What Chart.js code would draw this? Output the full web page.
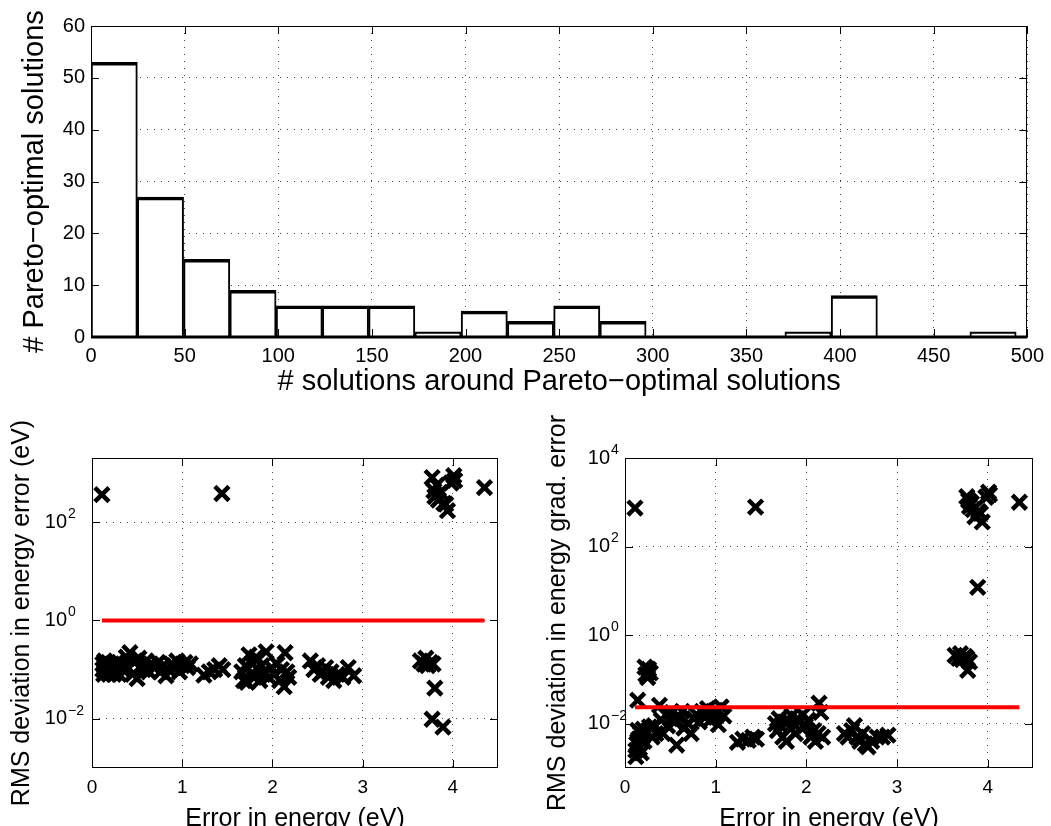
<!DOCTYPE html>
<html>
<head>
<meta charset="utf-8">
<script src="https://cdn.jsdelivr.net/npm/chart.js@4.4.0/dist/chart.umd.min.js"></script>
<style>
  html, body { margin: 0; padding: 0; background: #fff; overflow: hidden; }
  #page { position: relative; width: 1051px; height: 826px; overflow: hidden; }
  canvas { position: absolute; }
</style>
</head>
<body>
<div id="page">
  <canvas id="histChart" width="1051" height="410" style="left:0;top:0;width:1051px;height:410px"></canvas>
  <canvas id="energyChart" width="520" height="440" style="left:0;top:400px;width:520px;height:440px"></canvas>
  <canvas id="gradChart" width="531" height="440" style="left:520px;top:400px;width:531px;height:440px"></canvas>
</div>
<script>
// histogram: # solutions around each Pareto-optimal solution (20 bins)
const binCenters = [12.4, 37.1, 61.8, 86.5, 111.2, 135.9, 160.6, 185.3, 210.0, 234.7,
                    259.4, 284.1, 308.8, 333.5, 358.2, 382.9, 407.6, 432.3, 457.0, 481.7];
const binCounts = [53, 27, 15, 9, 6, 6, 6, 1, 5, 3, 6, 3, 0, 0, 0, 1, 8, 0, 0, 1];
const histXTicks = [0, 50, 100, 150, 200, 250, 300, 350, 400, 450, 500];
const histYTicks = [0, 10, 20, 30, 40, 50, 60];

// scatter: error in energy (eV) vs RMS deviations
const energyErr = [
  0.11, 1.44, 4.35,
  3.77, 3.79, 3.80, 3.82, 3.84, 3.86, 3.90, 3.94, 3.98, 4.01, 4.02, 3.92,
  3.64, 3.68, 3.70, 3.72, 3.75, 3.78, 3.80, 3.77, 3.89,
  0.12, 0.12, 0.13, 0.14, 0.15, 0.16, 0.17, 0.18, 0.19, 0.20, 0.21, 0.22,
  0.23, 0.24, 0.25, 0.26, 0.27, 0.28, 0.30, 0.32, 0.34, 0.14,
  0.38, 0.40, 0.42, 0.45, 0.47, 0.50, 0.52, 0.55, 0.57, 0.60, 0.63, 0.65,
  0.70, 0.73, 0.76, 0.79, 0.82, 0.85, 0.88, 0.91, 0.94, 0.97, 1.00, 1.03, 1.06, 1.09,
  1.24, 1.30, 1.36, 1.41, 1.45,
  1.66, 1.68, 1.70, 1.72, 1.74, 1.76, 1.78, 1.80, 1.82, 1.84, 1.86, 1.88,
  1.90, 1.93, 1.96, 1.99, 2.02, 2.05, 2.08, 2.10, 2.13, 2.14, 2.16, 2.18,
  2.42, 2.46, 2.50, 2.53, 2.56, 2.59, 2.62, 2.65, 2.68, 2.72, 2.78, 2.84, 2.90
];
const rmsEnergy = [
  360, 380, 500,
  800, 430, 330, 560, 280, 400, 240, 170, 620, 870, 700, 230,
  0.15, 0.13, 0.17, 0.12, 0.14, 0.13, 0.042, 0.0098, 0.0068,
  0.10, 0.13, 0.08, 0.11, 0.09, 0.12, 0.10, 0.14, 0.08, 0.11, 0.09, 0.13,
  0.10, 0.08, 0.12, 0.09, 0.14, 0.11, 0.08, 0.12, 0.10, 0.15,
  0.18, 0.11, 0.22, 0.08, 0.14, 0.066, 0.17, 0.12, 0.10, 0.15, 0.09, 0.13,
  0.11, 0.14, 0.09, 0.12, 0.075, 0.10, 0.13, 0.11, 0.15, 0.09, 0.12, 0.14, 0.11, 0.13,
  0.077, 0.09, 0.10, 0.12, 0.10,
  0.09, 0.06, 0.12, 0.055, 0.20, 0.08, 0.13, 0.07, 0.18, 0.10, 0.06, 0.12,
  0.09, 0.23, 0.07, 0.11, 0.08, 0.13, 0.06, 0.10, 0.045, 0.22, 0.09, 0.07,
  0.15, 0.10, 0.12, 0.08, 0.09, 0.11, 0.07, 0.09, 0.06, 0.08, 0.07, 0.11, 0.075
];
const rmsGrad = [
  740, 780, 1000,
  1340, 1100, 800, 950, 680, 470, 620, 360, 1300, 1700, 1500, 560,
  0.35, 0.30, 0.38, 0.28, 0.33, 0.16, 0.25, 0.30, 12,
  0.0025, 0.0018, 0.0035, 0.0071, 0.0045, 0.0028, 0.006, 0.0022, 0.005, 0.0075, 0.004, 0.19,
  0.13, 0.0065, 0.11, 0.17, 0.0085, 0.14, 0.005, 0.009, 0.006, 0.034,
  0.026, 0.012, 0.006, 0.016, 0.009, 0.013, 0.018, 0.011, 0.0033, 0.014, 0.019, 0.008,
  0.010, 0.006, 0.013, 0.016, 0.011, 0.019, 0.014, 0.022, 0.012, 0.017, 0.020, 0.0095, 0.024, 0.015,
  0.0038, 0.0045, 0.0042, 0.005, 0.0045,
  0.010, 0.007, 0.013, 0.009, 0.005, 0.011, 0.004, 0.012, 0.008, 0.015, 0.010, 0.006,
  0.013, 0.011, 0.016, 0.009, 0.012, 0.005, 0.007, 0.004, 0.006, 0.029, 0.018, 0.005,
  0.006, 0.005, 0.007, 0.009, 0.005, 0.004, 0.006, 0.0035, 0.003, 0.004, 0.005, 0.005, 0.0055
];
const energyLimit = 1;       // red line, left panel
const gradLimit = 0.0235;    // red line, right panel
const scatterXTicks = [0, 1, 2, 3, 4];
const energyYTicks = [1e-2, 1, 1e2];
const gradYTicks = [1e-2, 1, 1e2, 1e4];

const FONT = "'Liberation Sans', Arial, Helvetica, sans-serif";
Chart.defaults.font.family = FONT;
Chart.defaults.color = '#000';
Chart.defaults.animation = false;
Chart.defaults.events = [];
Chart.defaults.plugins.legend.display = false;
Chart.defaults.plugins.tooltip.enabled = false;

// matlab-like box with inward ticks
const matlabBox = {
  id: 'matlabBox',
  afterDatasetsDraw(chart, args, opts) {
    const { ctx, chartArea: a, scales } = chart;
    const len = 8;
    ctx.save();
    ctx.strokeStyle = '#000';
    ctx.lineWidth = 1;
    ctx.beginPath();
    scales.x.ticks.forEach(t => {
      const p = Math.round(scales.x.getPixelForValue(t.value)) + 0.5;
      ctx.moveTo(p, a.bottom); ctx.lineTo(p, a.bottom - len);
      ctx.moveTo(p, a.top); ctx.lineTo(p, a.top + len);
    });
    scales.y.ticks.forEach(t => {
      const p = Math.round(scales.y.getPixelForValue(t.value)) + 0.5;
      ctx.moveTo(a.left, p); ctx.lineTo(a.left + len, p);
      ctx.moveTo(a.right, p); ctx.lineTo(a.right - len, p);
    });
    ctx.stroke();
    ctx.strokeRect(Math.round(a.left) + 0.5, Math.round(a.top) + 0.5,
                   Math.round(a.right - a.left) - 1, Math.round(a.bottom - a.top) - 1);
    if (opts.baseWidth) {
      ctx.lineWidth = opts.baseWidth;
      ctx.beginPath();
      ctx.moveTo(a.left, a.bottom); ctx.lineTo(a.right, a.bottom);
      ctx.stroke();
    }
    ctx.restore();
  }
};

// exponents for the "10" tick labels of the log axes
const expLabels = {
  id: 'expLabels',
  afterDraw(chart, args, opts) {
    if (!opts.gap) return;
    const { ctx, chartArea: a, scales } = chart;
    ctx.save();
    ctx.fillStyle = '#000';
    ctx.font = '14px ' + FONT;
    ctx.textAlign = 'left';
    ctx.textBaseline = 'middle';
    scales.y.ticks.forEach(t => {
      const e = Math.round(Math.log10(t.value));
      const y = scales.y.getPixelForValue(t.value) - 8;
      ctx.fillText(e < 0 ? '\u2212' + (-e) : String(e), a.left - opts.gap + 1, y);
    });
    ctx.restore();
  }
};

const dotted = { display: false, dash: [1, 6] };
const gridStyle = { color: '#444', lineWidth: 1, drawTicks: false };

// top histogram
new Chart(document.getElementById('histChart'), {
  type: 'bar',
  data: {
    datasets: [{
      data: binCenters.map((c, i) => ({ x: c, y: binCounts[i] })),
      backgroundColor: '#fff',
      borderColor: '#000',
      borderWidth: { top: 3.5, left: 2, right: 2, bottom: 0 },
      borderSkipped: false,
      barPercentage: 1,
      categoryPercentage: 1
    }]
  },
  options: {
    responsive: false,
    layout: { padding: { left: 0, top: 26, right: 19, bottom: 0 } },
    plugins: { matlabBox: { baseWidth: 3 } },
    scales: {
      x: {
        type: 'linear', min: 0, max: 500, offset: false,
        grid: { ...gridStyle, offset: false }, border: dotted,
        afterBuildTicks: s => { s.ticks = histXTicks.map(v => ({ value: v })); },
        afterFit: s => { s.height = 73; },
        ticks: { font: { size: 20 }, padding: 7, maxRotation: 0, autoSkip: false },
        title: { display: true, text: '# solutions around Pareto\u2212optimal solutions',
                 font: { size: 29 }, padding: { bottom: 11, top: 0 } }
      },
      y: {
        min: 0, max: 60,
        grid: gridStyle, border: dotted,
        afterBuildTicks: s => { s.ticks = histYTicks.map(v => ({ value: v })); },
        afterFit: s => { s.width = 91; },
        ticks: { font: { size: 20 }, padding: 6 },
        title: { display: true, text: '# Pareto\u2212optimal solutions',
                 font: { size: 29 }, padding: { top: 17.6, bottom: 0 } }
      }
    }
  },
  plugins: [matlabBox]
});

function scatterPanel(id, yValues, limit, yMax, yTicks, yTitle, box) {
  const xMin = Math.min(...energyErr);
  const xMax = Math.max(...energyErr);
  return new Chart(document.getElementById(id), {
    type: 'scatter',
    data: {
      datasets: [{
        type: 'line',
        data: [{ x: xMin, y: limit }, { x: xMax, y: limit }],
        borderColor: '#ff0000',
        borderWidth: 4,
        pointRadius: 0,
        order: 0
      }, {
        data: energyErr.map((x, i) => ({ x: x, y: yValues[i] })),
        pointStyle: 'crossRot',
        radius: 10,
        borderWidth: 4.5,
        borderColor: '#000',
        backgroundColor: '#000',
        order: 1
      }]
    },
    options: {
      responsive: false,
      layout: { padding: { left: 0, top: 58, right: box.right, bottom: 0 } },
      plugins: { expLabels: { gap: box.tickPad } },
      scales: {
        x: {
          type: 'linear', min: 0, max: 4.5,
          grid: gridStyle, border: dotted,
          afterBuildTicks: s => { s.ticks = scatterXTicks.map(v => ({ value: v })); },
          afterFit: s => { s.height = 72; },
          ticks: { font: { size: 19 }, padding: 8, maxRotation: 0, autoSkip: false },
          title: { display: true, text: 'Error in energy (eV)',
                   font: { size: 25 }, padding: { bottom: 6, top: 0 } }
        },
        y: {
          type: 'logarithmic', min: 1e-3, max: yMax,
          grid: gridStyle, border: dotted,
          afterBuildTicks: s => { s.ticks = yTicks.map(v => ({ value: v })); },
          afterFit: s => { s.width = box.axisWidth; },
          ticks: { font: { size: 20 }, padding: box.tickPad, callback: () => '10', autoSkip: false },
          title: { display: true, text: yTitle,
                   font: { size: 25 }, padding: { top: box.titlePad, bottom: 0 } }
        }
      }
    },
    plugins: [matlabBox, expLabels]
  });
}

scatterPanel('energyChart', rmsEnergy, energyLimit, 2000, energyYTicks,
  'RMS deviation in energy error (eV)', { right: 22, axisWidth: 92, tickPad: 25, titlePad: 7 });
scatterPanel('gradChart', rmsGrad, gradLimit, 1e4, gradYTicks,
  'RMS deviation in energy grad. error', { right: 18, axisWidth: 105, tickPad: 15, titlePad: 23 });
</script>
</body>
</html>
